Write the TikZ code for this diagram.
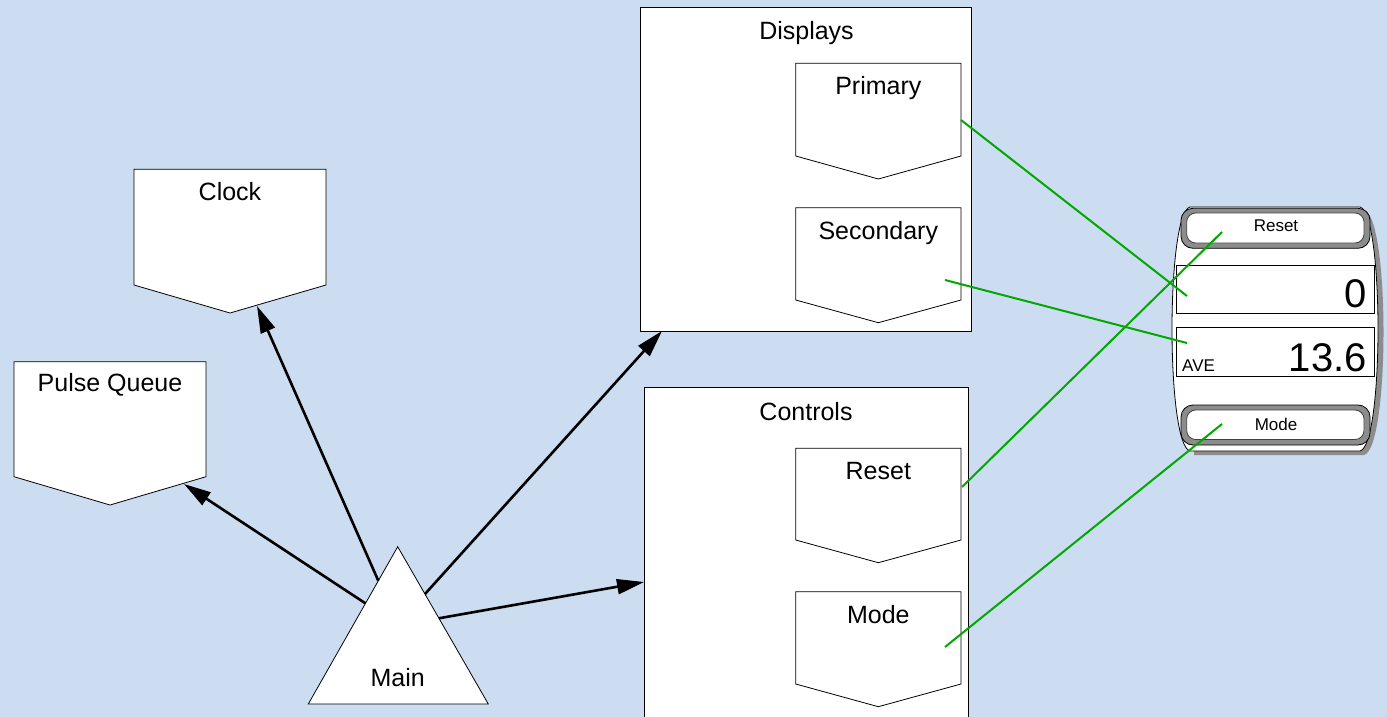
\documentclass[tikz,border=0pt]{standalone}
\usepackage{fontspec}
\setmainfont{Liberation Sans}
\usetikzlibrary{arrows.meta}
\definecolor{bg}{RGB}{204,221,241}
\definecolor{wire}{RGB}{0,168,0}
\definecolor{bezel}{RGB}{140,140,140}
% off-page connector: left, right, top, side bottom, point
\newcommand\offpagebox[5]{%
  \draw[shapebox] (#1,#3) -- (#2,#3) -- (#2,#4) -- ({(#1+#2)/2},#5) -- (#1,#4) -- cycle;}
\begin{document}
\begin{tikzpicture}[x=1pt,y=-1pt,
  shapebox/.style={fill=white,draw=black,line width=0.8pt},
  lbl/.style={anchor=base,inner sep=0pt,font=\fontsize{25}{30}\selectfont},
  small/.style={anchor=base,inner sep=0pt,font=\fontsize{17}{20}\selectfont},
  big/.style={anchor=base east,inner sep=0pt,font=\fontsize{40}{44}\selectfont},
  call/.style={line width=2.6pt,-{Triangle[length=27pt,width=15pt]}},
  link/.style={wire,line width=2pt}]
\useasboundingbox (0,0) rectangle (1387,717);
\fill[bg] (0,0) rectangle (1387,717);

% ---- modules ----
\offpagebox{134}{326}{169.3}{285}{313}
\node[lbl] (clock) at (230,200) {Clock};
\offpagebox{14}{206}{361.7}{476.7}{505}
\node[lbl] (pq) at (110,391.7) {Pulse Queue};

\draw[shapebox] (640.7,7.3) rectangle (971.7,331);
\node[lbl] (displays) at (806.5,39.3) {Displays};
\offpagebox{795.7}{961}{63.3}{156}{179}
\node[lbl] (primary) at (878.3,95) {Primary};
\offpagebox{795.7}{961}{207.7}{300}{322.7}
\node[lbl] (secondary) at (878.3,239) {Secondary};

\begin{scope}
\clip (0,0) rectangle (1387,717);
\draw[shapebox] (644,387.3) rectangle (968.3,730);
\end{scope}
\node[lbl] (controls) at (806,420.7) {Controls};
\offpagebox{795.7}{961}{448.3}{540}{562.7}
\node[lbl] (reset) at (878.3,479) {Reset};
\offpagebox{795.7}{961}{591.7}{684}{706.7}
\node[lbl] (mode) at (878.3,623.3) {Mode};

\draw[shapebox] (397.7,546.7) -- (488.3,704) -- (308.3,704) -- cycle;
\node[lbl] (main) at (397.7,686.7) {Main};

% ---- call connectors ----
\coordinate (m-pq) at (365.4,603.3);
\coordinate (m-clk) at (378.3,580.7);
\coordinate (m-dsp) at (425,594);
\coordinate (m-ctl) at (438.8,618.3);
\coordinate (pq-in) at (184,484);
\coordinate (clk-in) at (257,306);
\coordinate (dsp-in) at (662,331);
\coordinate (ctl-in) at (644,582);
\draw[call] (m-pq) -- (pq-in);
\draw[call] (m-clk) -- (clk-in);
\draw[call] (m-dsp) -- (dsp-in);
\draw[call] (m-ctl) -- (ctl-in);

% ---- device ----
\path[fill=bezel] (1194,210) -- (1364,210)
  .. controls (1390,216) and (1390,448) .. (1364,455)
  -- (1194,455) -- cycle;
\draw[fill=white,line width=0.8pt] (1190,207) -- (1360,207)
  .. controls (1384,213) and (1384,445) .. (1360,451)
  -- (1190,451)
  .. controls (1166,445) and (1166,213) .. (1190,207) -- cycle;

\draw[fill=bezel,line width=0.8pt,rounded corners=12pt] (1181,208.3) rectangle (1370,248.3);
\draw[fill=white,draw=black!75,line width=0.8pt,rounded corners=9pt] (1186.7,213) rectangle (1364,243);
\node[small] (dev-reset) at (1276,231.7) {Reset};

\draw[fill=bezel,line width=0.8pt,rounded corners=12pt] (1181,405) rectangle (1370,445);
\draw[fill=white,draw=black!75,line width=0.8pt,rounded corners=9pt] (1186.7,410) rectangle (1364,439.5);
\node[small] (dev-mode) at (1276,430.3) {Mode};

\draw[fill=white,line width=0.8pt] (1176.7,265) rectangle (1374.3,313.3);
\node[big] (dev-count) at (1367,307.7) {0};
\draw[fill=white,line width=0.8pt] (1176.7,327.7) rectangle (1374.3,376.7);
\node[big] (dev-ave) at (1367,371.7) {13.6};
\node[small,anchor=base west] (dev-avel) at (1182,371) {AVE};

% ---- wiring to the device ----
\coordinate (w-pri) at (961,120);
\coordinate (w-sec) at (945,280);
\coordinate (w-rst) at (962,487);
\coordinate (w-mod) at (945,647);
\coordinate (d-pri) at (1187,296);
\coordinate (d-sec) at (1187,343);
\coordinate (d-rst) at (1222,232);
\coordinate (d-mod) at (1222,424);
\draw[link] (w-pri) -- (d-pri);
\draw[link] (w-sec) -- (d-sec);
\draw[link] (w-rst) -- (d-rst);
\draw[link] (w-mod) -- (d-mod);
\end{tikzpicture}
\end{document}
